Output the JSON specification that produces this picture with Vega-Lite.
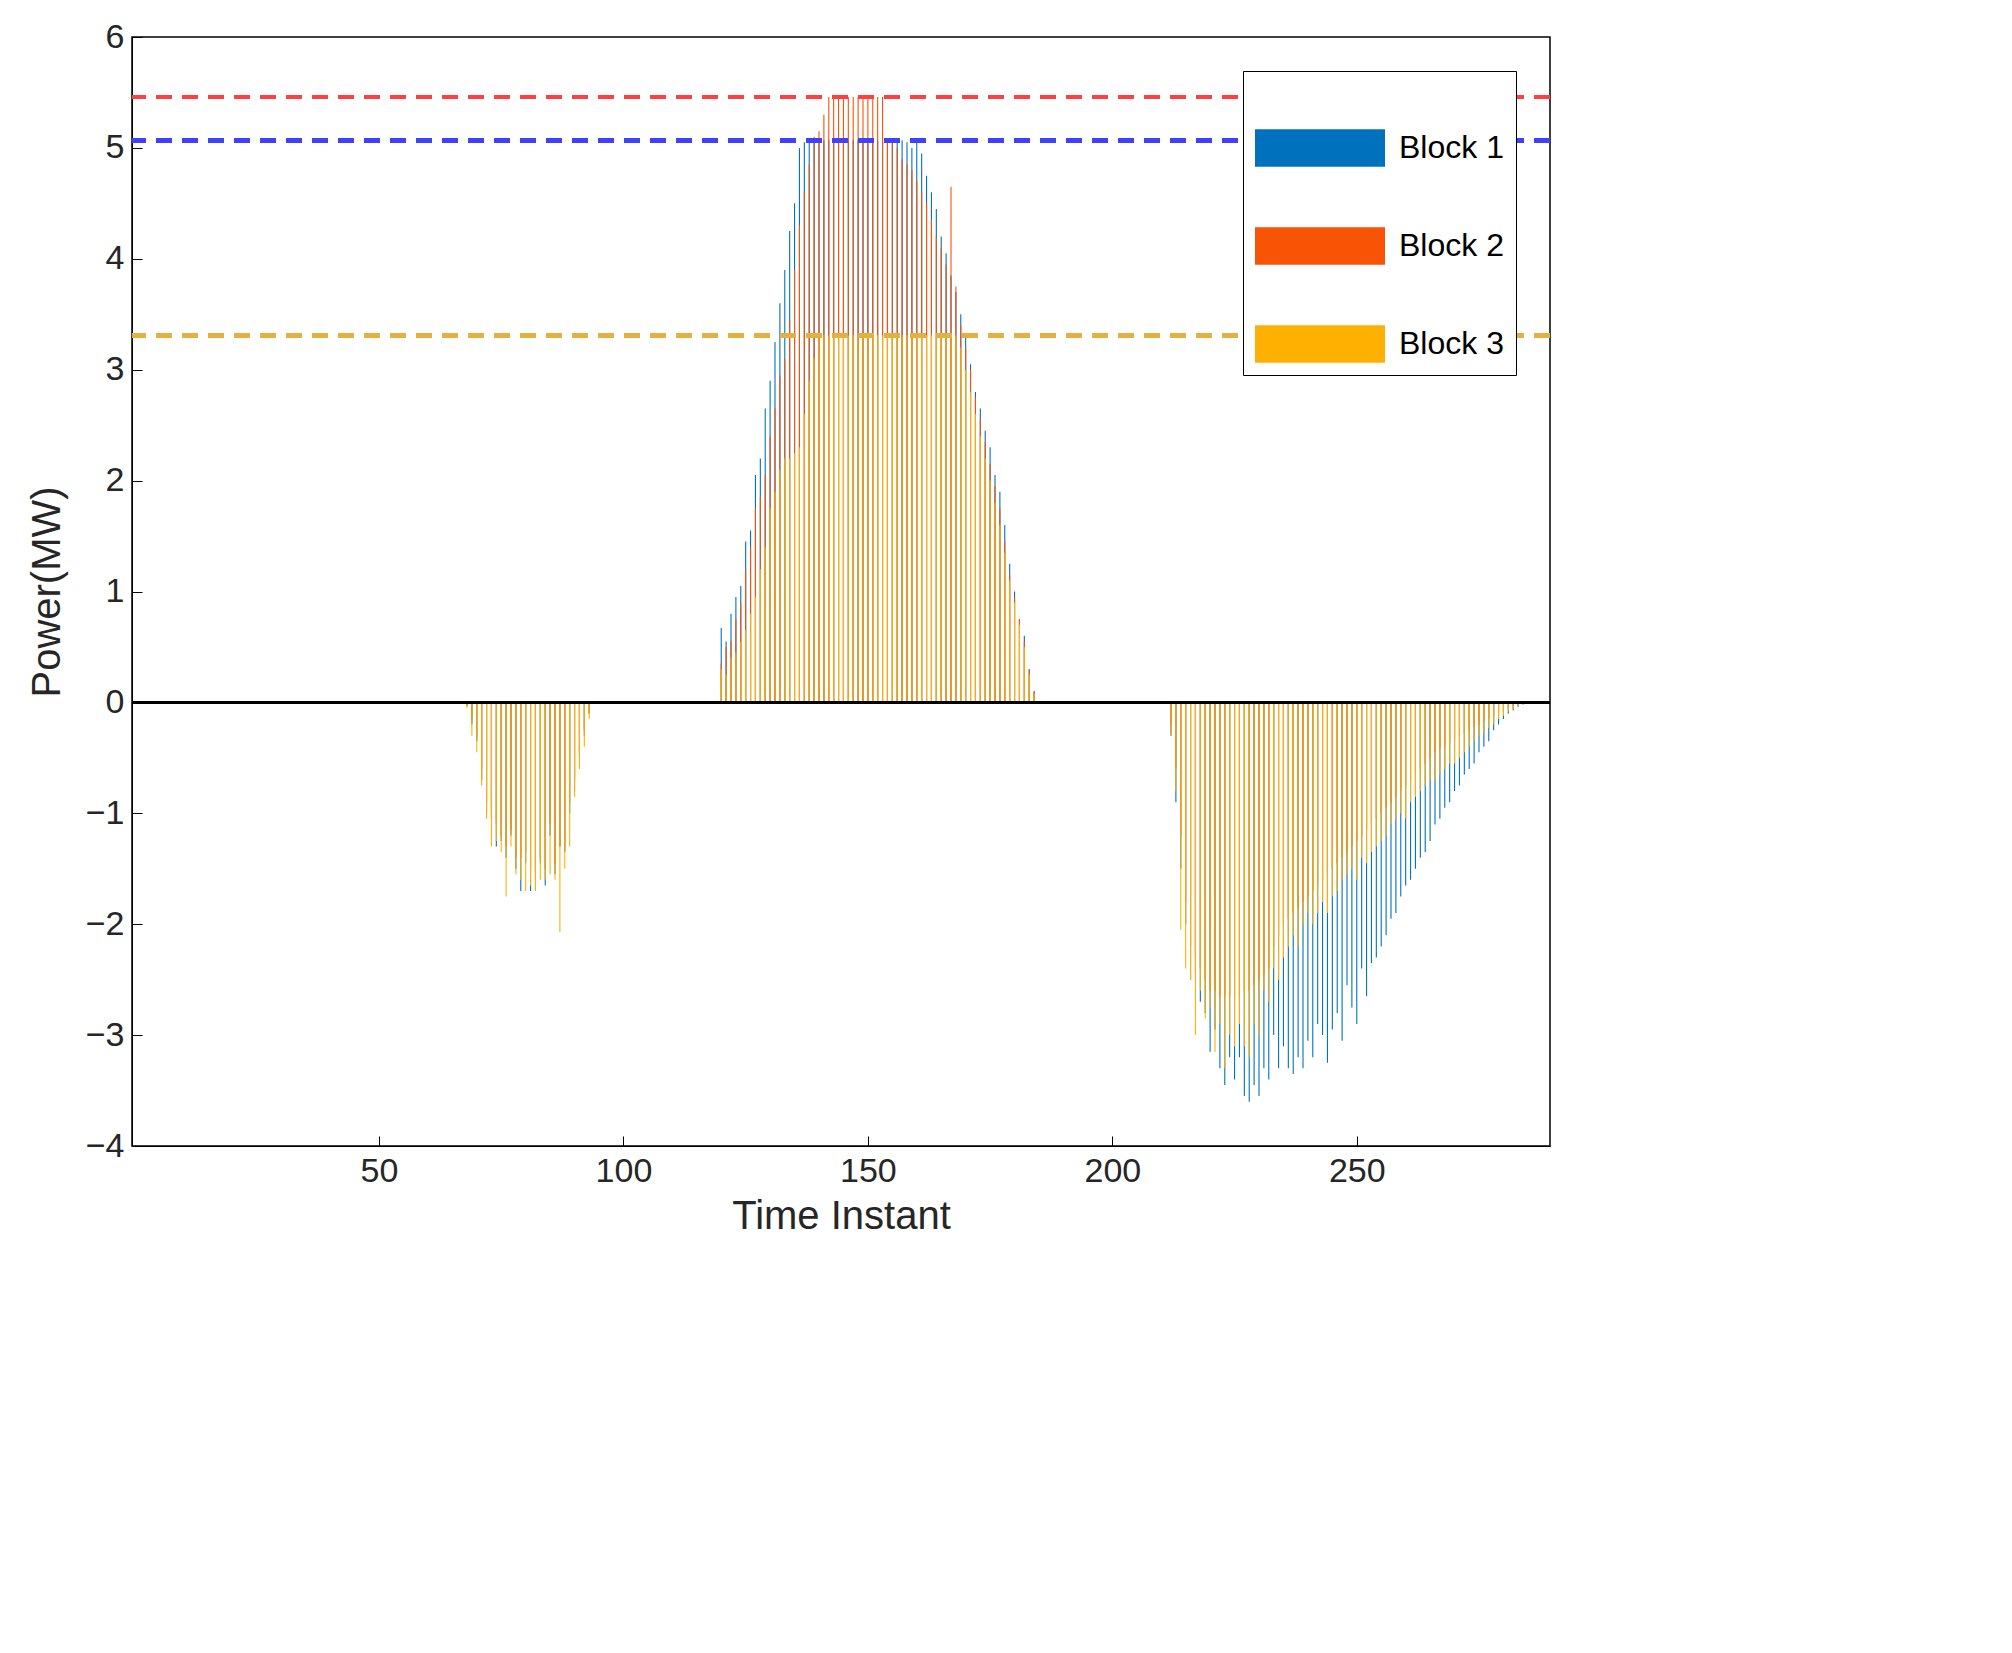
{
  "$schema": "https://vega.github.io/schema/vega-lite/v6.json",
  "width": 1418,
  "height": 1109,
  "autosize": {"type": "none"},
  "padding": {"left": 132, "top": 37, "right": 462, "bottom": 507},
  "background": "white",
  "data": {"values": [
    {"t":68,"a":-0.03,"b":-0.03,"c":-0.05},{"t":69,"a":-0.2,"b":-0.15,"c":-0.3},{"t":70,"a":-0.35,"b":-0.3,"c":-0.45},
    {"t":71,"a":-0.7,"b":-0.6,"c":-0.75},{"t":72,"a":-1.0,"b":-0.9,"c":-1.05},{"t":73,"a":-1.05,"b":-1.0,"c":-1.3},
    {"t":74,"a":-1.3,"b":-1.1,"c":-1.25},{"t":75,"a":-1.25,"b":-1.2,"c":-1.35},{"t":76,"a":-1.4,"b":-1.3,"c":-1.75},
    {"t":77,"a":-1.2,"b":-1.15,"c":-1.3},{"t":78,"a":-1.5,"b":-1.4,"c":-1.55},{"t":79,"a":-1.7,"b":-1.4,"c":-1.6},
    {"t":80,"a":-1.45,"b":-1.35,"c":-1.7},{"t":81,"a":-1.7,"b":-1.5,"c":-1.65},{"t":82,"a":-1.6,"b":-1.5,"c":-1.7},
    {"t":83,"a":-1.45,"b":-1.4,"c":-1.6},{"t":84,"a":-1.65,"b":-1.5,"c":-1.6},{"t":85,"a":-1.2,"b":-1.1,"c":-1.55},
    {"t":86,"a":-1.55,"b":-1.45,"c":-1.6},{"t":87,"a":-1.3,"b":-1.3,"c":-2.07},{"t":88,"a":-1.35,"b":-1.3,"c":-1.5},
    {"t":89,"a":-1.0,"b":-0.9,"c":-1.3},{"t":90,"a":-0.8,"b":-0.7,"c":-0.85},{"t":91,"a":-0.5,"b":-0.45,"c":-0.6},
    {"t":92,"a":-0.3,"b":-0.25,"c":-0.4},{"t":93,"a":-0.1,"b":-0.1,"c":-0.15},
    {"t":120,"a":0.67,"b":0.35,"c":0.3},{"t":121,"a":0.55,"b":0.5,"c":0.25},{"t":122,"a":0.8,"b":0.55,"c":0.4},
    {"t":123,"a":0.95,"b":0.75,"c":0.45},{"t":124,"a":1.05,"b":0.9,"c":0.55},{"t":125,"a":1.45,"b":1.2,"c":0.65},
    {"t":126,"a":1.55,"b":1.4,"c":0.8},{"t":127,"a":2.05,"b":1.75,"c":0.95},{"t":128,"a":2.2,"b":1.85,"c":1.2},
    {"t":129,"a":2.65,"b":2.05,"c":1.4},{"t":130,"a":2.9,"b":2.4,"c":1.75},{"t":131,"a":3.25,"b":2.65,"c":1.9},
    {"t":132,"a":3.6,"b":2.95,"c":2.1},{"t":133,"a":3.9,"b":3.1,"c":2.2},{"t":134,"a":4.25,"b":3.45,"c":2.2},
    {"t":135,"a":4.5,"b":3.9,"c":2.25},{"t":136,"a":5.0,"b":4.3,"c":2.3},{"t":137,"a":5.05,"b":4.6,"c":2.6},
    {"t":138,"a":5.07,"b":4.85,"c":2.9},{"t":139,"a":5.07,"b":5.1,"c":3.1},{"t":140,"a":5.07,"b":5.15,"c":3.31},
    {"t":141,"a":5.07,"b":5.3,"c":3.31},{"t":142,"a":5.07,"b":5.46,"c":3.31},{"t":143,"a":5.07,"b":5.46,"c":3.31},
    {"t":144,"a":5.07,"b":5.46,"c":3.31},{"t":145,"a":5.07,"b":5.46,"c":3.31},{"t":146,"a":5.07,"b":5.46,"c":3.31},
    {"t":147,"a":5.07,"b":5.46,"c":3.31},{"t":148,"a":5.07,"b":5.46,"c":3.31},{"t":149,"a":5.07,"b":5.46,"c":3.31},
    {"t":150,"a":5.07,"b":5.46,"c":3.31},{"t":151,"a":5.07,"b":5.46,"c":3.31},{"t":152,"a":5.07,"b":5.46,"c":3.31},
    {"t":153,"a":5.07,"b":5.46,"c":3.31},{"t":154,"a":5.07,"b":5.07,"c":3.31},{"t":155,"a":5.07,"b":5.07,"c":3.31},
    {"t":156,"a":5.07,"b":5.0,"c":3.31},{"t":157,"a":5.07,"b":4.9,"c":3.31},{"t":158,"a":5.05,"b":4.85,"c":3.31},
    {"t":159,"a":5.0,"b":4.8,"c":3.31},{"t":160,"a":5.07,"b":4.7,"c":3.31},{"t":161,"a":4.95,"b":4.6,"c":3.31},
    {"t":162,"a":4.75,"b":4.5,"c":3.31},{"t":163,"a":4.6,"b":4.35,"c":3.31},{"t":164,"a":4.45,"b":4.2,"c":3.31},
    {"t":165,"a":4.2,"b":4.1,"c":3.31},{"t":166,"a":4.05,"b":3.95,"c":3.31},{"t":167,"a":3.85,"b":4.65,"c":3.31},
    {"t":168,"a":3.7,"b":3.75,"c":3.31},{"t":169,"a":3.5,"b":3.4,"c":3.2},{"t":170,"a":3.3,"b":3.2,"c":3.0},
    {"t":171,"a":3.05,"b":3.0,"c":2.8},{"t":172,"a":2.8,"b":2.75,"c":2.6},{"t":173,"a":2.65,"b":2.55,"c":2.4},
    {"t":174,"a":2.45,"b":2.35,"c":2.2},{"t":175,"a":2.3,"b":2.15,"c":2.0},{"t":176,"a":2.05,"b":1.95,"c":1.8},
    {"t":177,"a":1.9,"b":1.75,"c":1.6},{"t":178,"a":1.6,"b":1.45,"c":1.35},{"t":179,"a":1.25,"b":1.15,"c":1.1},
    {"t":180,"a":1.0,"b":0.95,"c":0.9},{"t":181,"a":0.75,"b":0.75,"c":0.7},{"t":182,"a":0.6,"b":0.55,"c":0.5},
    {"t":183,"a":0.3,"b":0.3,"c":0.25},{"t":184,"a":0.1,"b":0.1,"c":0.08},
    {"t":212,"a":-0.3,"b":-0.2,"c":-0.3},{"t":213,"a":-0.9,"b":-0.6,"c":-0.8},{"t":214,"a":-1.5,"b":-1.2,"c":-2.05},
    {"t":215,"a":-2.0,"b":-1.8,"c":-2.4},{"t":216,"a":-2.5,"b":-2.2,"c":-2.5},{"t":217,"a":-2.45,"b":-2.3,"c":-3.0},
    {"t":218,"a":-2.7,"b":-2.4,"c":-2.6},{"t":219,"a":-2.8,"b":-2.5,"c":-2.85},{"t":220,"a":-3.15,"b":-2.6,"c":-2.75},
    {"t":221,"a":-2.95,"b":-2.6,"c":-3.15},{"t":222,"a":-3.3,"b":-2.65,"c":-2.9},{"t":223,"a":-3.45,"b":-2.65,"c":-3.3},
    {"t":224,"a":-3.2,"b":-2.65,"c":-3.0},{"t":225,"a":-3.4,"b":-2.65,"c":-3.1},{"t":226,"a":-3.2,"b":-2.65,"c":-2.9},
    {"t":227,"a":-3.55,"b":-2.6,"c":-3.1},{"t":228,"a":-3.6,"b":-2.6,"c":-3.2},{"t":229,"a":-3.45,"b":-2.55,"c":-2.9},
    {"t":230,"a":-3.55,"b":-2.5,"c":-3.0},{"t":231,"a":-3.3,"b":-2.45,"c":-2.6},{"t":232,"a":-3.4,"b":-2.4,"c":-2.7},
    {"t":233,"a":-3.0,"b":-2.2,"c":-2.4},{"t":234,"a":-3.3,"b":-2.1,"c":-2.5},{"t":235,"a":-3.1,"b":-2.0,"c":-2.3},
    {"t":236,"a":-3.3,"b":-1.95,"c":-2.2},{"t":237,"a":-3.35,"b":-1.9,"c":-2.1},{"t":238,"a":-3.2,"b":-1.85,"c":-2.2},
    {"t":239,"a":-3.3,"b":-1.8,"c":-2.0},{"t":240,"a":-3.05,"b":-1.75,"c":-1.9},{"t":241,"a":-3.2,"b":-1.7,"c":-2.0},
    {"t":242,"a":-2.9,"b":-1.65,"c":-1.9},{"t":243,"a":-3.0,"b":-1.6,"c":-1.8},{"t":244,"a":-3.25,"b":-1.55,"c":-1.9},
    {"t":245,"a":-2.95,"b":-1.5,"c":-1.75},{"t":246,"a":-2.8,"b":-1.45,"c":-1.7},{"t":247,"a":-3.05,"b":-1.4,"c":-1.6},
    {"t":248,"a":-2.55,"b":-1.35,"c":-1.55},{"t":249,"a":-2.75,"b":-1.3,"c":-1.5},{"t":250,"a":-2.9,"b":-1.25,"c":-1.6},
    {"t":251,"a":-2.4,"b":-1.2,"c":-1.4},{"t":252,"a":-2.65,"b":-1.15,"c":-1.45},{"t":253,"a":-2.35,"b":-1.1,"c":-1.35},
    {"t":254,"a":-2.3,"b":-1.05,"c":-1.3},{"t":255,"a":-2.2,"b":-1.0,"c":-1.25},{"t":256,"a":-2.1,"b":-0.95,"c":-1.2},
    {"t":257,"a":-1.95,"b":-0.9,"c":-1.1},{"t":258,"a":-1.9,"b":-0.85,"c":-1.05},{"t":259,"a":-1.75,"b":-0.8,"c":-1.0},
    {"t":260,"a":-1.65,"b":-0.75,"c":-1.05},{"t":261,"a":-1.6,"b":-0.7,"c":-0.9},{"t":262,"a":-1.5,"b":-0.65,"c":-0.85},
    {"t":263,"a":-1.4,"b":-0.6,"c":-0.8},{"t":264,"a":-1.35,"b":-0.55,"c":-0.75},{"t":265,"a":-1.25,"b":-0.5,"c":-0.7},
    {"t":266,"a":-1.1,"b":-0.45,"c":-0.7},{"t":267,"a":-1.05,"b":-0.42,"c":-0.65},{"t":268,"a":-0.95,"b":-0.4,"c":-0.6},
    {"t":269,"a":-0.9,"b":-0.37,"c":-0.55},{"t":270,"a":-0.8,"b":-0.34,"c":-0.55},{"t":271,"a":-0.75,"b":-0.3,"c":-0.5},
    {"t":272,"a":-0.65,"b":-0.28,"c":-0.45},{"t":273,"a":-0.6,"b":-0.25,"c":-0.4},{"t":274,"a":-0.55,"b":-0.22,"c":-0.35},
    {"t":275,"a":-0.45,"b":-0.2,"c":-0.3},{"t":276,"a":-0.4,"b":-0.17,"c":-0.27},{"t":277,"a":-0.35,"b":-0.15,"c":-0.23},
    {"t":278,"a":-0.25,"b":-0.12,"c":-0.2},{"t":279,"a":-0.2,"b":-0.1,"c":-0.15},{"t":280,"a":-0.15,"b":-0.08,"c":-0.12},
    {"t":281,"a":-0.1,"b":-0.06,"c":-0.08},{"t":282,"a":-0.07,"b":-0.04,"c":-0.06},{"t":283,"a":-0.04,"b":-0.02,"c":-0.03},
    {"t":284,"a":-0.02,"b":-0.01,"c":-0.02}
  ]},
  "encoding": {
    "x": {"field": "t", "type": "quantitative", "title": "Time Instant",
      "scale": {"domain": [0.5, 288.5], "nice": false, "zero": false},
      "axis": {"values": [50, 100, 150, 200, 250], "grid": false, "format": "d"}},
    "color": {"scale": {"domain": ["Block 1", "Block 2", "Block 3"], "range": ["#0072BD", "#F95306", "#FFB000"]},
      "legend": {"title": null, "orient": "top-right", "offset": 34, "fillColor": "white", "strokeColor": "black",
        "padding": 12, "labelFontSize": 32, "labelFont": "Liberation Sans", "labelColor": "black", "rowPadding": 14,
        "labelOffset": 14, "symbolType": "M-1,-0.29L1,-0.29L1,0.29L-1,0.29Z", "symbolSize": 16900,
        "symbolStrokeWidth": 0, "symbolOpacity": 1}}
  },
  "layer": [
    {"mark": {"type": "bar", "size": 1.1, "dx": -1.6, "stroke": null},
     "encoding": {"y": {"field": "a", "type": "quantitative", "title": "Power(MW)",
        "scale": {"domain": [-4, 6], "nice": false},
        "axis": {"values": [-4,-3,-2,-1,0,1,2,3,4,5,6], "grid": false, "format": "d"}},
       "color": {"datum": "Block 1"}}},
    {"mark": {"type": "bar", "size": 1.1, "stroke": null},
     "encoding": {"y": {"field": "b", "type": "quantitative"}, "color": {"datum": "Block 2"}}},
    {"mark": {"type": "bar", "size": 1.1, "dx": 1.6, "stroke": null},
     "encoding": {"y": {"field": "c", "type": "quantitative"}, "color": {"datum": "Block 3"}}},
    {"mark": {"type": "rule", "color": "black", "strokeWidth": 1.5}, "encoding": {"y": {"datum": 0}, "x": null, "color": null}},
    {"mark": {"type": "rule", "color": "#FF4040", "strokeWidth": 4, "strokeDash": [16, 10]}, "encoding": {"y": {"datum": 5.46}, "x": null, "color": null}},
    {"mark": {"type": "rule", "color": "#4040FF", "strokeWidth": 4, "strokeDash": [16, 10]}, "encoding": {"y": {"datum": 5.07}, "x": null, "color": null}},
    {"mark": {"type": "rule", "color": "#E6B040", "strokeWidth": 4, "strokeDash": [16, 10]}, "encoding": {"y": {"datum": 3.31}, "x": null, "color": null}}
  ],
  "config": {
    "view": {"stroke": "black", "strokeWidth": 1.5},
    "font": "Liberation Sans",
    "axis": {"labelFontSize": 34, "titleFontSize": 40, "labelColor": "#262626", "titleColor": "#262626",
      "domainColor": "black", "tickColor": "black", "ticks": true, "tickSize": -10, "labelPadding": 18,
      "titleFontWeight": "normal", "labelFont": "Liberation Sans", "titleFont": "Liberation Sans"},
    "axisX": {"titlePadding": 8},
    "axisY": {"titlePadding": 18}
  }
}
